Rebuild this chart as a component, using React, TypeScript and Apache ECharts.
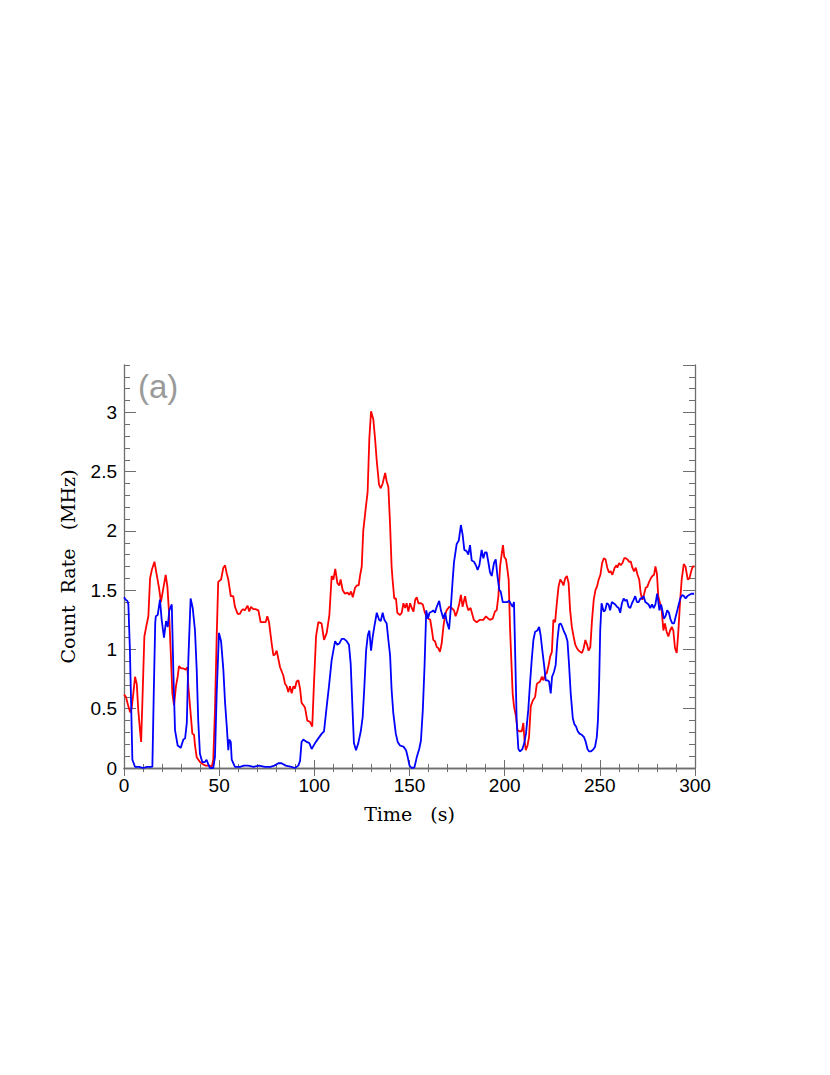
import React, { useEffect, useRef } from "react";
import * as echarts from "echarts";

const xTickLabels = ["0", "50", "100", "150", "200", "250", "300"];
const yTickLabels = ["0", "0.5", "1", "1.5", "2", "2.5", "3"];

const blueSeries: [number, number][] = [
  [0,1.44],[0.9,1.42],[1.8,1.41],[2.3,1.38],[3.1,1.0],[3.8,0.5],[4.4,0.07],[5.8,0.01],[8,0.01],[10,0.0],[12,0.01],[14.9,0.01],[15.6,0.6],[16.4,1.22],[16.7,1.28],[17.7,1.29],[18.9,1.42],[19.8,1.25],[21,1.10],[22.1,1.24],[23,1.19],[23.8,1.33],[25.1,1.38],[26,0.77],[26.8,0.32],[28.2,0.19],[29.8,0.17],[31.2,0.24],[32.1,0.25],[33,0.38],[33.8,0.91],[35,1.43],[36.1,1.35],[37.3,1.16],[38.2,0.83],[39,0.40],[39.9,0.12],[41.1,0.05],[42.5,0.05],[43.4,0.07],[44.3,0.03],[45.2,0.0],[46.9,0.0],[47.8,0.095],[48.7,0.63],[49.9,1.14],[51,1.07],[52.2,0.83],[53.1,0.55],[54,0.35],[54.8,0.15],[55.3,0.24],[56.1,0.22],[56.6,0.07],[58.3,0.01],[61,0.01],[63,0.02],[65.3,0.02],[68,0.01],[71,0.02],[74,0.01],[77,0.01],[79,0.02],[81.1,0.04],[82.8,0.04],[85,0.02],[88,0.01],[89.8,0.0],[91.6,0.02],[92.5,0.06],[93.3,0.22],[94.2,0.24],[96,0.22],[97.4,0.21],[98.6,0.16],[100.4,0.21],[102.1,0.25],[103.9,0.29],[105.1,0.31],[106.5,0.52],[107.7,0.69],[109.1,0.91],[110,0.99],[110.9,1.07],[112.1,1.04],[113.1,1.05],[114.4,1.09],[115.6,1.09],[117,1.07],[118.2,1.04],[119.1,0.88],[120,0.52],[120.8,0.21],[121.9,0.15],[123.1,0.21],[124.4,0.31],[125.4,0.43],[126.3,0.69],[127.2,0.99],[128.1,1.12],[128.9,1.16],[129.8,0.99],[130.7,1.11],[131.5,1.19],[132.8,1.31],[134,1.25],[134.9,1.24],[135.9,1.31],[136.8,1.25],[138,1.22],[138.9,1.08],[139.8,0.95],[140.6,0.66],[141.5,0.46],[142.8,0.29],[143.8,0.22],[145,0.19],[146.8,0.18],[148.2,0.15],[149.1,0.09],[150,0.02],[151.2,0.0],[152.6,0.005],[153.8,0.09],[155.1,0.16],[156,0.23],[157,0.49],[157.9,0.86],[158.8,1.33],[159.7,1.26],[160.5,1.31],[161.8,1.32],[162.5,1.33],[163.4,1.31],[164.3,1.36],[165.6,1.41],[166.5,1.33],[167.8,1.26],[168.7,1.31],[169.5,1.24],[170.8,1.17],[171.6,1.33],[172.7,1.59],[173.4,1.74],[174.8,1.89],[175.9,1.92],[177,2.05],[177.9,1.97],[178.8,1.84],[180,1.83],[180.9,1.80],[181.8,1.88],[182.7,1.75],[183.9,1.74],[184.9,1.71],[185.8,1.67],[186.7,1.71],[187.9,1.84],[188.8,1.77],[189.7,1.82],[190.5,1.82],[191.4,1.74],[192.3,1.65],[193.2,1.62],[194.4,1.73],[195.3,1.76],[196.2,1.62],[197.2,1.50],[197.9,1.49],[199,1.40],[200.2,1.40],[201.4,1.40],[202.4,1.41],[203.4,1.38],[204.2,1.36],[204.9,1.40],[205.6,0.91],[206.3,0.40],[207.2,0.16],[208.1,0.14],[209.3,0.16],[210.3,0.21],[211.2,0.29],[212.4,0.49],[213.3,0.71],[214.2,0.91],[215.1,1.08],[216,1.15],[217.2,1.16],[218.1,1.19],[218.9,1.12],[219.8,0.99],[220.7,0.87],[221.6,0.74],[222.5,0.74],[223.3,0.73],[224.2,0.63],[224.9,0.77],[225.9,0.81],[226.8,0.87],[227.7,1.08],[228.6,1.21],[229.4,1.22],[230.3,1.19],[231.2,1.15],[232.1,1.12],[233,1.07],[233.8,0.88],[234.7,0.63],[235.8,0.42],[236.6,0.37],[237.5,0.35],[238.4,0.31],[239.3,0.29],[240.5,0.28],[241.7,0.26],[242.6,0.22],[243.5,0.16],[244.4,0.14],[245.4,0.14],[246.7,0.16],[247.5,0.18],[248.4,0.26],[249,0.40],[249.6,0.69],[250.2,1.16],[250.9,1.39],[252,1.32],[252.8,1.33],[253.7,1.39],[254.6,1.38],[255.4,1.33],[256.3,1.40],[257.2,1.39],[258.1,1.38],[259,1.36],[259.9,1.35],[260.7,1.31],[261.6,1.39],[262.5,1.43],[263.4,1.41],[264.2,1.42],[265.1,1.36],[266,1.35],[266.9,1.39],[267.8,1.42],[268.6,1.45],[269.5,1.40],[270.4,1.40],[271.3,1.43],[272.1,1.43],[273,1.45],[273.9,1.40],[274.8,1.39],[275.6,1.38],[276.5,1.35],[277.4,1.38],[278.3,1.35],[279.2,1.38],[280.1,1.47],[280.6,1.42],[281.3,1.33],[282.2,1.38],[283.1,1.31],[283.6,1.26],[284.5,1.28],[285.4,1.33],[286.3,1.31],[287.2,1.25],[288.1,1.22],[289,1.22],[289.9,1.28],[290.7,1.33],[291.6,1.39],[292.5,1.44],[293.4,1.46],[294.2,1.45],[295.1,1.43],[296,1.45],[296.9,1.46],[298.1,1.47],[299.5,1.47]
];

const redSeries: [number, number][] = [
  [0,0.62],[1,0.60],[2.3,0.52],[3.2,0.47],[4,0.50],[4.9,0.63],[5.8,0.77],[6.7,0.71],[7.5,0.49],[8.4,0.32],[9,0.22],[9.8,0.63],[10.7,1.11],[11.9,1.21],[12.8,1.28],[13.7,1.60],[14.6,1.67],[16,1.74],[17.2,1.63],[18.4,1.52],[19.4,1.40],[20.7,1.52],[21.9,1.63],[22.8,1.53],[23.7,1.30],[24.5,1.0],[25.4,0.63],[26.3,0.53],[27.3,0.69],[28.2,0.77],[28.9,0.86],[30,0.84],[31.2,0.84],[32.4,0.83],[33.3,0.85],[33.8,0.69],[34.7,0.52],[35.9,0.29],[36.8,0.28],[37.3,0.19],[38.2,0.09],[39.9,0.05],[41.7,0.03],[42.9,0.02],[45.2,0.02],[46.1,0.01],[46.9,0.07],[47.8,0.49],[48.7,1.11],[49.5,1.57],[51,1.59],[52.2,1.69],[53.1,1.71],[54,1.64],[54.8,1.59],[56.1,1.45],[57.4,1.45],[58.3,1.36],[59.7,1.30],[60.9,1.30],[61.8,1.33],[62.6,1.34],[63.5,1.33],[64.9,1.37],[65.8,1.32],[66.7,1.36],[67.9,1.34],[69.1,1.34],[70.6,1.33],[71.8,1.23],[73.2,1.23],[74.4,1.23],[75.3,1.28],[76.2,1.23],[77.6,1.05],[78.5,0.95],[79.4,0.96],[80.2,0.99],[81.1,0.92],[82,0.85],[83.7,0.78],[84.6,0.71],[85.5,0.69],[86.3,0.64],[87.2,0.69],[88.1,0.63],[89,0.69],[89.8,0.67],[90.7,0.73],[91.6,0.74],[92.5,0.67],[93.3,0.55],[95.1,0.51],[96.3,0.40],[97.7,0.39],[98.9,0.35],[99.8,0.71],[100.9,1.11],[102.1,1.23],[103.8,1.22],[105.1,1.08],[106.5,1.14],[107.9,1.29],[109.1,1.62],[110,1.59],[111,1.68],[112.1,1.56],[113.1,1.54],[113.8,1.59],[114.9,1.50],[116.1,1.47],[117.4,1.48],[118.4,1.46],[119.3,1.49],[120.2,1.44],[121.4,1.52],[122.3,1.54],[123.3,1.54],[124,1.62],[124.9,1.70],[125.7,2.0],[127,2.19],[128,2.33],[128.9,2.78],[129.8,3.01],[131,2.94],[131.9,2.78],[132.8,2.59],[134,2.39],[134.9,2.36],[135.9,2.40],[137.2,2.49],[138,2.42],[138.9,2.37],[139.8,2.05],[140.6,1.70],[141.1,1.59],[142,1.43],[142.9,1.43],[143.6,1.31],[145,1.29],[145.9,1.31],[146.8,1.39],[147.7,1.35],[148.5,1.39],[149.4,1.32],[150.3,1.39],[151.2,1.35],[152.1,1.32],[153,1.42],[153.8,1.44],[154.7,1.39],[156,1.39],[157,1.38],[157.9,1.32],[158.8,1.28],[160,1.26],[160.9,1.25],[161.8,1.16],[162.5,1.08],[163.4,1.07],[164.3,1.02],[165.2,1.01],[166,0.98],[166.9,1.05],[167.8,1.19],[168.7,1.29],[169.5,1.33],[170.9,1.36],[172.1,1.35],[173.4,1.33],[174.2,1.28],[175.1,1.32],[176.2,1.39],[177,1.46],[177.9,1.36],[179.2,1.45],[180,1.38],[180.9,1.33],[182.1,1.35],[183.1,1.29],[183.8,1.25],[185.3,1.23],[187,1.25],[188.8,1.25],[190.2,1.28],[191.4,1.26],[192.3,1.25],[193.7,1.26],[194.9,1.32],[195.8,1.33],[196.7,1.45],[197.6,1.70],[198.4,1.80],[199.1,1.88],[199.8,1.78],[200.7,1.76],[201.4,1.68],[202.1,1.59],[202.8,1.19],[203.5,0.91],[204.2,0.63],[204.9,0.52],[206,0.43],[206.7,0.32],[207.7,0.31],[209,0.31],[209.8,0.38],[210.4,0.24],[211.1,0.15],[212,0.19],[212.8,0.26],[213.7,0.52],[214.8,0.57],[216,0.60],[216.9,0.71],[217.7,0.72],[218.6,0.73],[219.5,0.77],[220.4,0.74],[221.3,0.79],[222.1,0.80],[223,0.86],[223.9,0.94],[224.8,0.98],[225.6,1.25],[226.5,1.23],[227.4,1.39],[228.3,1.53],[229.2,1.59],[230.1,1.57],[230.9,1.54],[231.8,1.60],[232.7,1.62],[233.6,1.56],[234.4,1.33],[235.3,1.19],[236.2,1.11],[237.1,1.04],[238,1.01],[238.9,0.99],[239.7,0.98],[240.6,0.97],[241.5,1.01],[242.4,1.08],[243.3,1.04],[244.1,0.99],[245,1.02],[245.9,1.25],[246.8,1.42],[247.7,1.50],[248.5,1.53],[249.4,1.59],[250.3,1.63],[251.2,1.73],[252.1,1.77],[253,1.76],[253.9,1.69],[254.8,1.65],[255.7,1.66],[256.6,1.63],[257.8,1.69],[258.7,1.71],[259.2,1.69],[260.1,1.73],[261,1.71],[261.9,1.73],[262.8,1.77],[263.6,1.77],[264.5,1.76],[265.4,1.74],[266.3,1.74],[267.1,1.69],[268,1.66],[268.9,1.69],[269.8,1.63],[270.7,1.59],[271.5,1.47],[272.4,1.42],[273.3,1.47],[274.1,1.52],[275,1.53],[275.9,1.57],[276.8,1.60],[277.6,1.62],[278.5,1.63],[279.2,1.70],[280,1.64],[280.7,1.45],[281.6,1.39],[282.5,1.33],[283.4,1.16],[284.2,1.22],[285.1,1.15],[286,1.11],[286.9,1.16],[287.8,1.19],[288.6,1.16],[289.5,1.01],[290.4,0.97],[291.2,1.14],[292.1,1.39],[293,1.59],[294.1,1.72],[295,1.70],[296.2,1.59],[297.1,1.60],[298,1.66],[298.8,1.70],[299.7,1.70]
];

const FRAME = "#6e6e6e";

export default function App() {
  const ref = useRef<HTMLDivElement>(null);
  useEffect(() => {
    if (!ref.current) return;
    const chart = echarts.init(ref.current, null, { renderer: "svg" });
    const xLabelSet = new Set(xTickLabels);
    const yLabelSet = new Set(yTickLabels);
    const baseX = {
      type: "value" as const,
      min: 0,
      max: 300,
      interval: 50,
      splitLine: { show: false },
      axisLine: { show: true, lineStyle: { color: FRAME, width: 1.3 } },
      axisTick: { show: true, inside: true, length: 8, lineStyle: { color: FRAME, width: 1 } },
      minorTick: { show: true, splitNumber: 5, length: 4, lineStyle: { color: FRAME, width: 1 } },
    };
    const yMajor = {
      type: "value" as const,
      min: 0,
      max: 3.4,
      interval: 0.5,
      splitLine: { show: false },
      axisLine: { show: true, lineStyle: { color: FRAME, width: 1.3 } },
      axisTick: { show: true, inside: true, length: 12, lineStyle: { color: FRAME, width: 1 } },
    };
    const yMinor = {
      type: "value" as const,
      min: 0,
      max: 3.4,
      interval: 0.1,
      splitLine: { show: false },
      axisLine: { show: false },
      axisLabel: { show: false },
      axisTick: { show: true, inside: true, length: 6, lineStyle: { color: FRAME, width: 1 } },
    };
    chart.setOption({
      animation: false,
      backgroundColor: "#ffffff",
      grid: { left: 124, top: 365, right: 135, bottom: 307, containLabel: false },
      xAxis: [
        {
          ...baseX,
          position: "bottom",
          name: "Time   (s)",
          nameLocation: "middle",
          nameGap: 36,
          nameTextStyle: { fontFamily: "DejaVu Serif", fontSize: 19, color: "#000" },
          axisLabel: {
            show: true,
            margin: 8,
            fontFamily: "Liberation Sans",
            fontSize: 19,
            color: "#000",
            formatter: (v: number) => (xLabelSet.has(String(v)) ? String(v) : ""),
          },
        },
        { ...baseX, position: "top", axisLabel: { show: false } },
      ],
      yAxis: [
        {
          ...yMajor,
          position: "left",
          name: "Count  Rate   (MHz)",
          nameLocation: "middle",
          nameGap: 47,
          nameTextStyle: { fontFamily: "DejaVu Serif", fontSize: 19, color: "#000" },
          axisLabel: {
            show: true,
            margin: 7,
            showMaxLabel: false,
            fontFamily: "Liberation Sans",
            fontSize: 19,
            color: "#000",
            formatter: (v: number) => {
              const s = String(Math.round(v * 10) / 10);
              return yLabelSet.has(s) ? s : "";
            },
          },
        },
        { ...yMinor, position: "left" },
        { ...yMajor, position: "right", axisLabel: { show: false } },
        { ...yMinor, position: "right" },
      ],
      graphic: [
        {
          type: "text",
          left: 138,
          top: 370,
          style: {
            text: "(a)",
            fontFamily: "Liberation Sans",
            fontSize: 33,
            fill: "#9a9a9a",
          },
        },
      ],
      series: [
        {
          type: "line",
          name: "red",
          data: redSeries,
          xAxisIndex: 0,
          yAxisIndex: 0,
          showSymbol: false,
          lineStyle: { color: "#ff0000", width: 1.8 },
          itemStyle: { color: "#ff0000" },
        },
        {
          type: "line",
          name: "blue",
          data: blueSeries,
          xAxisIndex: 0,
          yAxisIndex: 0,
          showSymbol: false,
          lineStyle: { color: "#0000ff", width: 1.8 },
          itemStyle: { color: "#0000ff" },
        },
      ],
    });
    return () => chart.dispose();
  }, []);
  return (
    <div
      ref={ref}
      style={{ position: "absolute", left: 0, top: 0, width: 830, height: 1075 }}
    />
  );
}
